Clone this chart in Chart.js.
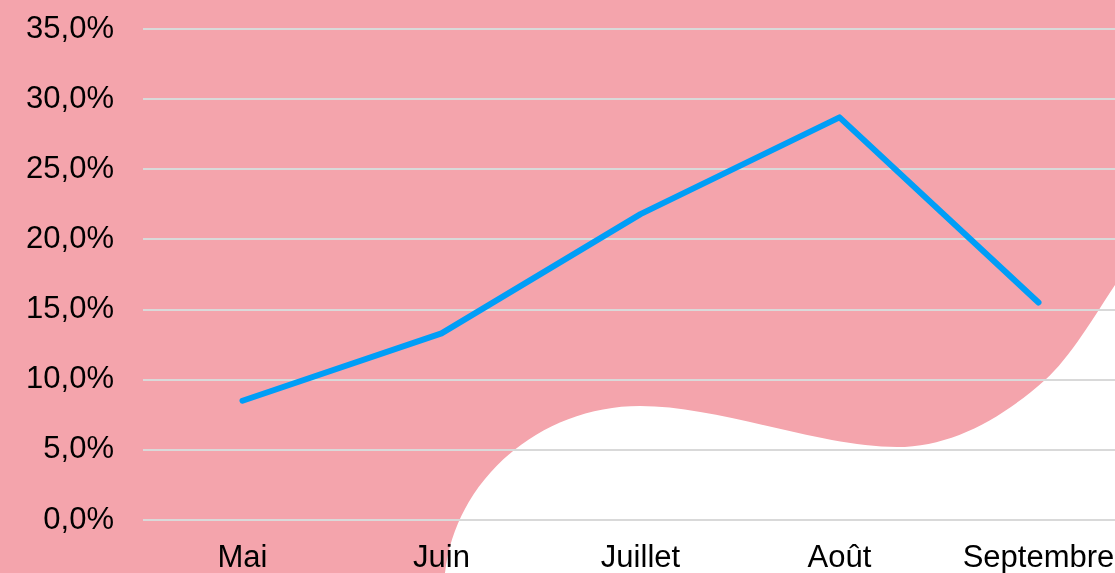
<!DOCTYPE html>
<html>
<head>
    <meta charset="utf-8">
    <title>Évolution mensuelle</title>
    <style>
        html, body {
            margin: 0;
            padding: 0;
            width: 1115px;
            height: 573px;
            overflow: hidden;
            background: #f4a4ac;
            font-family: "Liberation Sans", Arial, sans-serif;
        }
        /* forme blanche décorative en bas à droite */
        #blob {
            position: absolute;
            left: 0;
            top: 0;
        }
        #chartBox {
            position: absolute;
            left: 0;
            top: 0;
            width: 1140px;
            height: 580px;
        }
    </style>
</head>
<body>
    <svg id="blob" width="1115" height="573" viewBox="0 0 1115 573">
        <path fill="#ffffff" d="M445,573 C455,480 540,406 640,406 C720,406 820,447 897,447 C950,447 1000,420 1045,380 C1070,358 1095,315 1115,285 L1115,573 Z"/>
    </svg>
    <div id="chartBox">
        <canvas id="lineChart" width="1140" height="580"></canvas>
    </div>

    <script src="https://cdn.jsdelivr.net/npm/chart.js"></script>
    <script>
        // données
        const mois = ['Mai', 'Juin', 'Juillet', 'Août', 'Septembre'];
        const taux = [8.5, 13.3, 21.8, 28.7, 15.5];
        const yMin = 0;
        const yMax = 35;
        const yStep = 5;

        function formatPct(v) {
            return v.toFixed(1).replace('.', ',') + '%';
        }

        const ctx = document.getElementById('lineChart').getContext('2d');

        new Chart(ctx, {
            type: 'line',
            data: {
                labels: mois,
                datasets: [{
                    label: 'Taux',
                    data: taux,
                    borderColor: 'rgb(0, 158, 247)',
                    borderWidth: 6,
                    borderCapStyle: 'round',
                    borderJoinStyle: 'round',
                    pointRadius: 0,
                    tension: 0,
                    fill: false
                }]
            },
            options: {
                responsive: false,
                animation: false,
                layout: {
                    padding: { top: 29, right: 2, left: 0, bottom: 0 }
                },
                plugins: {
                    legend: { display: false },
                    tooltip: { enabled: false }
                },
                scales: {
                    x: {
                        offset: true,
                        grid: { display: false, drawTicks: false },
                        border: { display: false },
                        ticks: {
                            color: '#000',
                            padding: 20,
                            maxRotation: 0,
                            autoSkip: false,
                            font: { family: '"Liberation Sans", Arial, sans-serif', size: 31 }
                        },
                        afterFit: function(scale) {
                            scale.height = 60;
                            scale.paddingLeft = 0;
                            scale.paddingRight = 0;
                        }
                    },
                    y: {
                        min: yMin,
                        max: yMax,
                        grid: {
                            color: 'rgb(217, 217, 217)',
                            lineWidth: 2,
                            drawTicks: false
                        },
                        border: { display: false },
                        ticks: {
                            stepSize: yStep,
                            color: '#000',
                            padding: 29,
                            font: { family: '"Liberation Sans", Arial, sans-serif', size: 31 },
                            callback: function(value) { return formatPct(value); }
                        },
                        afterFit: function(scale) {
                            scale.width = 143;
                            scale.paddingTop = 0;
                            scale.paddingBottom = 0;
                        }
                    }
                }
            }
        });
    </script>
</body>
</html>
